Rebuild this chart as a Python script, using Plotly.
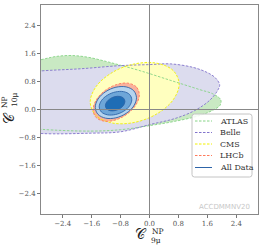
import plotly.graph_objects as go

# ---- data: confidence-region boundaries ----
atlas_x = [-3.6, -3.0, -2.6, -2.17, -1.7, -1.2, -0.8, -0.25, 0.57, 1.39, 1.75, 1.97, 1.95, 1.75, 1.4, 0.70, 0.02, -0.8, -1.62, -2.97, -3.6]
atlas_y = [1.30, 1.43, 1.52, 1.55, 1.50, 1.38, 1.27, 1.11, 0.84, 0.57, 0.45, 0.28, 0.12, -0.02, -0.17, -0.34, -0.46, -0.58, -0.62, -0.57, -0.50]

belle_x = [-3.6, -2.97, -1.9, -0.8, 0.02, 0.57, 1.2, 1.6, 1.82, 1.94, 1.88, 1.66, 1.25, 0.70, 0.02, -0.8, -1.62, -2.97, -3.6]
belle_y = [1.05, 1.11, 1.17, 1.26, 1.29, 1.31, 1.21, 1.06, 0.91, 0.71, 0.54, 0.26, -0.03, -0.26, -0.43, -0.64, -0.68, -0.69, -0.62]

cms_x = [0.82, 0.655, 0.205, -0.41, -1.025, -1.475, -1.64, -1.475, -1.025, -0.41, 0.205, 0.655]
cms_y = [0.734, 1.118, 1.329, 1.31, 1.065, 0.661, 0.206, -0.178, -0.389, -0.37, -0.125, 0.279]

lhcb_x = [-0.28, -0.366, -0.60, -0.92, -1.24, -1.474, -1.56, -1.474, -1.24, -0.92, -0.60, -0.366]
lhcb_y = [0.43, 0.652, 0.757, 0.714, 0.537, 0.272, -0.01, -0.232, -0.337, -0.294, -0.117, 0.148]

all3_x = [-0.36, -0.436, -0.645, -0.93, -1.215, -1.424, -1.50, -1.424, -1.215, -0.93, -0.645, -0.436]
all3_y = [0.338, 0.539, 0.649, 0.639, 0.511, 0.30, 0.062, -0.139, -0.249, -0.239, -0.111, 0.10]

all2_x = [-0.49, -0.55, -0.715, -0.94, -1.165, -1.33, -1.39, -1.33, -1.165, -0.94, -0.715, -0.55]
all2_y = [0.282, 0.431, 0.512, 0.504, 0.41, 0.254, 0.078, -0.071, -0.152, -0.144, -0.05, 0.106]

all1_x = [-0.68, -0.716, -0.815, -0.95, -1.085, -1.184, -1.22, -1.184, -1.085, -0.95, -0.815, -0.716]
all1_y = [0.233, 0.325, 0.375, 0.37, 0.312, 0.216, 0.107, 0.015, -0.035, -0.03, 0.028, 0.124]

tick_vals = [-2.4, -1.6, -0.8, 0.0, 0.8, 1.6, 2.4]
tick_text = ["\u22122.4", "\u22121.6", "\u22120.8", "0.0", "0.8", "1.6", "2.4"]
legend_names = ["ATLAS", "Belle", "CMS", "LHCb", "All Data"]

DASH = "2.5px,1.5px"
line_cols = ["#86d486", "#8274cc", "#f2f000", "#ff7b5c", "#2d64a8"]
line_dash = [DASH, DASH, DASH, DASH, "solid"]


def closed(xs, ys):
    return list(xs) + [xs[0]], list(ys) + [ys[0]]


fig = go.Figure()

fills = [
    (atlas_x, atlas_y, "#c9e9c3"),
    (belle_x, belle_y, "#dcdcee"),
    (cms_x, cms_y, "#ffffbf"),
    (lhcb_x, lhcb_y, "#f9b29d"),
    (all3_x, all3_y, "#b5d4ee"),
    (all2_x, all2_y, "#6ea6d8"),
    (all1_x, all1_y, "#1f6db5"),
]
for xs, ys, col in fills:
    cx, cy = closed(xs, ys)
    fig.add_trace(go.Scatter(x=cx, y=cy, mode="lines", fill="toself", fillcolor=col,
                             line=dict(width=0, shape="spline", smoothing=1.0),
                             hoverinfo="skip", showlegend=False))

outlines = [(atlas_x, atlas_y), (belle_x, belle_y), (cms_x, cms_y), (lhcb_x, lhcb_y), (all3_x, all3_y)]
for (xs, ys), col, dash, name in zip(outlines, line_cols, line_dash, legend_names):
    cx, cy = closed(xs, ys)
    fig.add_trace(go.Scatter(x=cx, y=cy, mode="lines", name=name, showlegend=False,
                             line=dict(width=0.9, color=col, dash=dash, shape="spline", smoothing=1.0),
                             hoverinfo="skip"))
for xs, ys in [(all2_x, all2_y), (all1_x, all1_y)]:
    cx, cy = closed(xs, ys)
    fig.add_trace(go.Scatter(x=cx, y=cy, mode="lines", showlegend=False,
                             line=dict(width=0.9, color=line_cols[4], shape="spline", smoothing=1.0),
                             hoverinfo="skip"))

W, H = 262, 248
L, R, T, B = 41, 4, 5, 34
pw, ph = W - L - R, H - T - B


def px(xp):
    return (xp - L) / pw


def py(yp):
    return (H - B - yp) / ph


axis_common = dict(range=[-3, 3], tickvals=tick_vals, ticktext=tick_text, ticks="outside",
                   ticklen=3, tickcolor="#777", showgrid=False, zeroline=False,
                   showline=True, linecolor="#888", linewidth=1, mirror=True, automargin=False,
                   tickfont=dict(family="DejaVu Serif", size=7, color="#555"))

shapes = [
    dict(type="line", xref="paper", yref="y", x0=0, x1=1, y0=0, y1=0,
         line=dict(color="#888", width=1), layer="above"),
    dict(type="line", xref="x", yref="paper", x0=0, x1=0, y0=0, y1=1,
         line=dict(color="#888", width=1), layer="above"),
]

# hand-drawn legend box (matplotlib style, compact rows)
bx0, bx1, by0, by1, r = 192, 252, 114, 177, 2.5
path = (f"M {px(bx0 + r)},{py(by0)} L {px(bx1 - r)},{py(by0)} Q {px(bx1)},{py(by0)} {px(bx1)},{py(by0 + r)} "
        f"L {px(bx1)},{py(by1 - r)} Q {px(bx1)},{py(by1)} {px(bx1 - r)},{py(by1)} "
        f"L {px(bx0 + r)},{py(by1)} Q {px(bx0)},{py(by1)} {px(bx0)},{py(by1 - r)} "
        f"L {px(bx0)},{py(by0 + r)} Q {px(bx0)},{py(by0)} {px(bx0 + r)},{py(by0)} Z")
shapes.append(dict(type="path", xref="paper", yref="paper", path=path,
                   fillcolor="rgba(255,255,255,0.85)", line=dict(color="#c4c4c4", width=1), layer="above"))
row_y = [121, 132.5, 144, 155.5, 167.5]
for name, col, dash, yy in zip(legend_names, line_cols, line_dash, row_y):
    shapes.append(dict(type="line", xref="paper", yref="paper", x0=px(195), x1=px(212),
                       y0=py(yy), y1=py(yy), line=dict(color=col, width=1, dash=dash), layer="above"))
    fig.add_annotation(text=name, xref="paper", yref="paper", x=px(218), y=py(yy),
                       xanchor="left", yanchor="middle", showarrow=False,
                       font=dict(family="DejaVu Serif", size=8, color="#333"))

fig.update_layout(
    width=W, height=H, margin=dict(l=L, r=R, t=T, b=B),
    paper_bgcolor="white", plot_bgcolor="white",
    xaxis=axis_common, yaxis=axis_common, showlegend=False, shapes=shapes,
)

ann = [
    dict(text="\U0001D49E", x=px(141), y=py(234), font=dict(family="DejaVu Serif", size=14, color="#222"), textangle=0),
    dict(text="NP", x=px(158), y=py(231), font=dict(family="DejaVu Serif", size=7.5, color="#222"), textangle=0),
    dict(text="9\u03bc", x=px(156), y=py(240.5), font=dict(family="DejaVu Serif", size=7.5, color="#222"), textangle=0),
    dict(text="\U0001D49E", x=px(9), y=py(118), font=dict(family="DejaVu Serif", size=14, color="#222"), textangle=-90),
    dict(text="NP", x=px(4), y=py(102), font=dict(family="DejaVu Serif", size=7.5, color="#222"), textangle=-90),
    dict(text="10\u03bc", x=px(14), y=py(100), font=dict(family="DejaVu Serif", size=7.5, color="#222"), textangle=-90),
]
for a in ann:
    fig.add_annotation(xref="paper", yref="paper", showarrow=False, xanchor="center", yanchor="middle", **a)
fig.add_annotation(text="ACCDMMNV20", xref="paper", yref="paper", x=px(252), y=py(207),
                   xanchor="right", yanchor="middle", showarrow=False,
                   font=dict(family="DejaVu Sans", size=7, color="#c8c8c8"))

fig.write_html("out.html", config={"displayModeBar": False},
               post_script="document.body.style.margin='0px';")
